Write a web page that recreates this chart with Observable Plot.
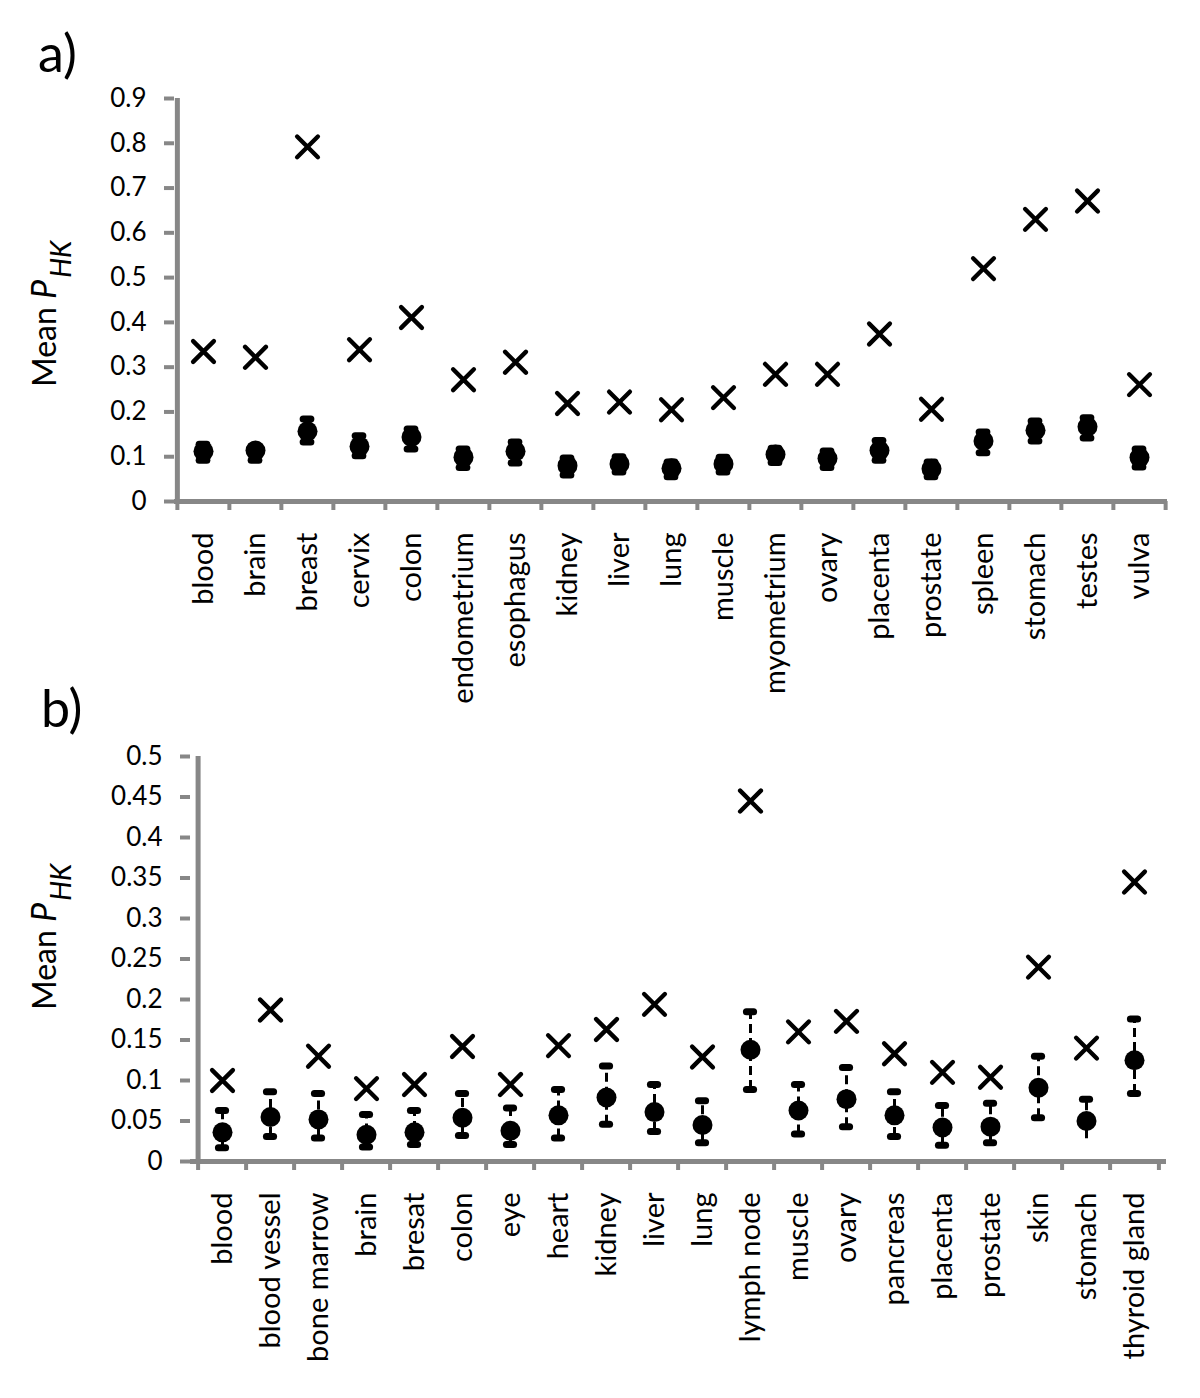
<!DOCTYPE html>
<html>
<head>
<meta charset="utf-8">
<script src="https://cdn.jsdelivr.net/npm/d3@7"></script>
<script src="https://cdn.jsdelivr.net/npm/@observablehq/plot@0.6"></script>
<style>
  html, body { margin: 0; padding: 0; background: #fff; }
  #root { position: relative; width: 1200px; height: 1398px; overflow: hidden; background: #fff; }
  .panel { position: absolute; left: 0; }
  #overlay { position: absolute; left: 0; top: 0; pointer-events: none; }
</style>
</head>
<body>
<div id="root">
  <div id="panelA" class="panel" style="top:0px"></div>
  <div id="panelB" class="panel" style="top:720px"></div>
  <svg id="overlay" width="1200" height="1398" xmlns="http://www.w3.org/2000/svg">
    <text x="38" y="72" font-family="Lato, sans-serif" font-size="52" fill="#000">a)</text>
    <text x="41" y="727" font-family="Lato, sans-serif" font-size="52" fill="#000">b)</text>
    <text transform="translate(56,387) rotate(-90)" font-family="Lato, sans-serif" font-size="32" fill="#000">Mean <tspan font-style="italic" font-size="34">P</tspan><tspan font-style="italic" font-size="28" dx="2" dy="15">HK</tspan></text>
    <text transform="translate(56,1010) rotate(-90)" font-family="Lato, sans-serif" font-size="32" fill="#000">Mean <tspan font-style="italic" font-size="34">P</tspan><tspan font-style="italic" font-size="28" dx="2" dy="15">HK</tspan></text>
  </svg>
</div>
<script>
// ---------- Panel a data ----------
const catsA = ["blood","brain","breast","cervix","colon","endometrium","esophagus","kidney","liver","lung","muscle","myometrium","ovary","placenta","prostate","spleen","stomach","testes","vulva"];
const crossA = [0.335,0.322,0.792,0.339,0.411,0.272,0.311,0.219,0.222,0.205,0.232,0.284,0.284,0.374,0.206,0.520,0.630,0.671,0.261];
const meanA  = [0.112,0.114,0.157,0.123,0.144,0.099,0.112,0.080,0.084,0.074,0.084,0.105,0.096,0.114,0.073,0.135,0.159,0.167,0.098];
const upperA = [0.128,0.124,0.184,0.147,0.162,0.117,0.133,0.097,0.100,0.088,0.099,0.119,0.113,0.136,0.088,0.155,0.180,0.187,0.117];
const lowerA = [0.092,0.092,0.133,0.102,0.117,0.076,0.086,0.059,0.066,0.055,0.066,0.087,0.076,0.092,0.055,0.109,0.135,0.142,0.077];
const yTicksA = [0,0.1,0.2,0.3,0.4,0.5,0.6,0.7,0.8,0.9];

// ---------- Panel b data ----------
const catsB = ["blood","blood vessel","bone marrow","brain","bresat","colon","eye","heart","kidney","liver","lung","lymph node","muscle","ovary","pancreas","placenta","prostate","skin","stomach","thyroid gland"];
const crossB = [0.100,0.187,0.130,0.090,0.095,0.142,0.095,0.143,0.163,0.194,0.129,0.445,0.160,0.173,0.133,0.110,0.104,0.240,0.140,0.345];
const meanB  = [0.036,0.055,0.052,0.033,0.036,0.054,0.038,0.057,0.079,0.061,0.045,0.138,0.063,0.077,0.057,0.042,0.043,0.091,0.050,0.125];
const upperB = [0.063,0.086,0.084,0.058,0.063,0.084,0.066,0.089,0.118,0.095,0.075,0.185,0.095,0.116,0.086,0.069,0.072,0.130,0.077,0.176];
const lowerB = [0.017,0.031,0.029,0.018,0.021,0.032,0.021,0.029,0.046,0.037,0.023,0.089,0.034,0.043,0.031,0.020,0.023,0.054,0.028,0.084];
const noLowerCapB = ["stomach"];
const yTicksB = [0,0.05,0.1,0.15,0.2,0.25,0.3,0.35,0.4,0.45,0.5];

const GRAY = "#878787";

function panel(cfg) {
  const {cats, cross, mean, upper, lower, noLowerCap = [], yTicks, width, height, mL, mR, mT, mB, dash} = cfg;
  const rows = cats.map((c, i) => ({cat: c, cross: cross[i], mean: mean[i], hi: upper[i], lo: lower[i]}));
  const lowCapRows = rows.filter(d => !noLowerCap.includes(d.cat));
  const bw = (width - mL - mR) / cats.length;
  const capW = 8;
  const yMax = yTicks[yTicks.length - 1];
  return Plot.plot({
    width, height,
    marginLeft: mL, marginRight: mR, marginTop: mT, marginBottom: mB,
    style: {fontFamily: "Lato, sans-serif", fontSize: "26px", color: "black", background: "transparent", overflow: "visible"},
    x: {type: "band", domain: cats, padding: 0, label: null},
    y: {domain: [0, yMax], label: null},
    marks: [
      // axis lines
      Plot.ruleY([0], {stroke: GRAY, strokeWidth: 5}),
      Plot.ruleX([cats[0]], {x: d => d, y1: 0, y2: yMax, dx: -bw / 2, stroke: GRAY, strokeWidth: 5}),
      // y axis ticks & labels
      Plot.axisY({ticks: yTicks, tickSize: 10, tickPadding: 18, tickFormat: d => String(d),
                  stroke: GRAY, strokeWidth: 4, fill: "black", fontSize: 26, label: null}),
      // x tick marks at category boundaries
      Plot.axisX({tickSize: 9, tickFormat: () => "", dx: -bw / 2, stroke: GRAY, strokeWidth: 4, label: null}),
      Plot.axisX({ticks: [cats[cats.length - 1]], tickSize: 9, tickFormat: () => "", dx: bw / 2, stroke: GRAY, strokeWidth: 4, label: null}),
      // x labels
      Plot.axisX({tickSize: 0, tickPadding: 31, tickRotate: -90, fontSize: 29, fill: "black", label: null}),
      // error bars
      Plot.ruleX(rows, {x: "cat", y1: "lo", y2: "hi", stroke: "black", strokeWidth: 3, strokeDasharray: dash}),
      Plot.tickY(rows, {x: "cat", y: "hi", insetLeft: (bw - capW) / 2, insetRight: (bw - capW) / 2, stroke: "black", strokeWidth: 7, strokeLinecap: "round"}),
      Plot.tickY(lowCapRows, {x: "cat", y: "lo", insetLeft: (bw - capW) / 2, insetRight: (bw - capW) / 2, stroke: "black", strokeWidth: 7, strokeLinecap: "round"}),
      // mean dots
      Plot.dot(rows, {x: "cat", y: "mean", r: 10, fill: "black", stroke: null}),
      // crosses
      Plot.dot(rows, {x: "cat", y: "cross", symbol: "times", r: 9.5, stroke: "black", strokeWidth: 4.4, strokeLinecap: "round"})
    ]
  });
}

document.getElementById("panelA").append(panel({
  cats: catsA, cross: crossA, mean: meanA, upper: upperA, lower: lowerA, yTicks: yTicksA,
  width: 1200, height: 720, mL: 174, mR: 33, mT: 98, mB: 219, dash: null
}));
document.getElementById("panelB").append(panel({
  cats: catsB, cross: crossB, mean: meanB, upper: upperB, lower: lowerB, noLowerCap: noLowerCapB, yTicks: yTicksB,
  width: 1200, height: 678, mL: 190, mR: 34, mT: 36, mB: 237, dash: "9,5"
}));
</script>
</body>
</html>
